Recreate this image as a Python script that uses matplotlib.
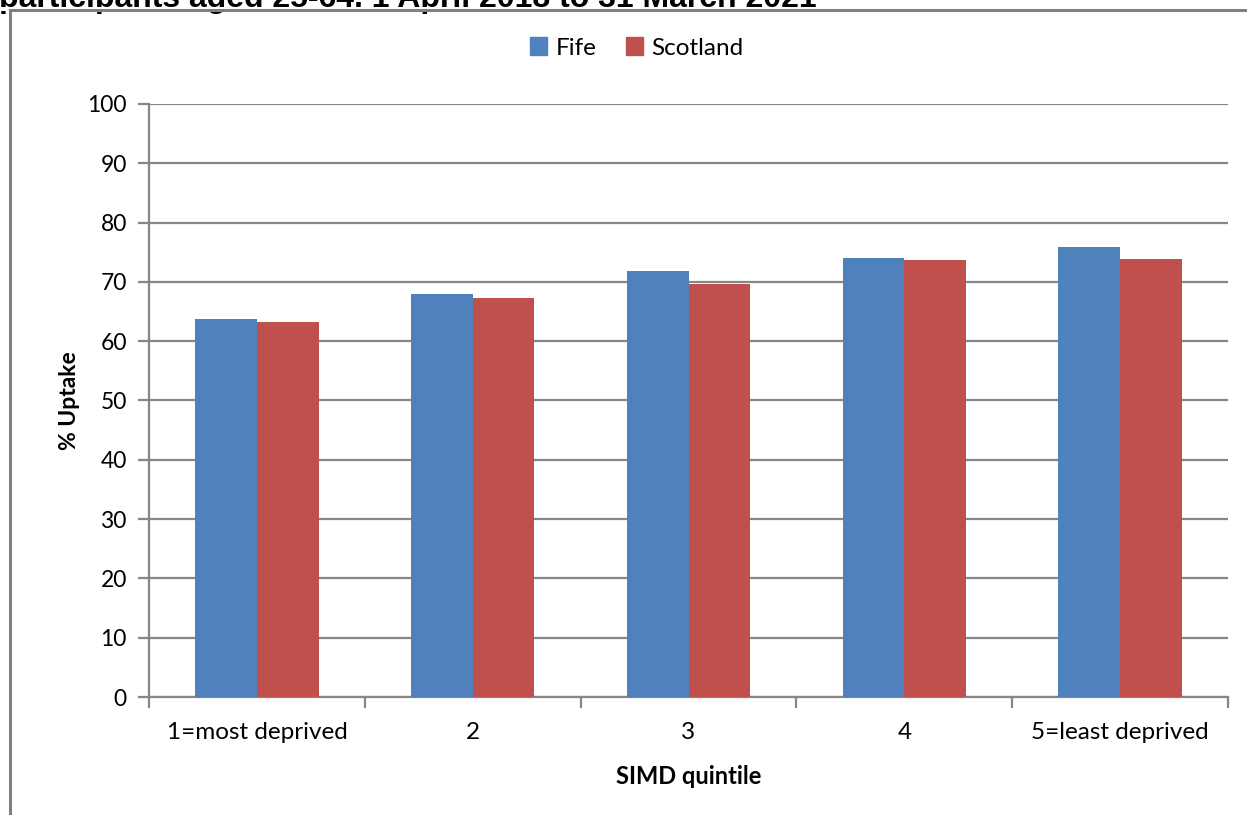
import matplotlib
matplotlib.use("Agg")
import matplotlib.pyplot as plt
from matplotlib.patches import Rectangle
from matplotlib.lines import Line2D
import numpy as np

categories = ["1=most deprived", "2", "3", "4", "5=least deprived"]
fife = [63.7, 68.0, 71.8, 74.0, 75.9]
scotland = [63.2, 67.3, 69.6, 73.7, 73.9]
series_names = ["Fife", "Scotland"]
colors = ["#4F81BD", "#C0504D"]
title = "participants aged 25-64, 1 April 2018 to 31 March 2021"

W, H = 1247, 815
fig = plt.figure(figsize=(W / 100, H / 100), dpi=100)
fig.patch.set_facecolor("white")

font = ["Lato", "DejaVu Sans"]
grid_col = "#868686"

# title, mostly cut off by the top edge
fig.text(-1 / W, 1 - 7 / H, title, fontsize=23, fontweight="bold",
         family=["Liberation Sans", "DejaVu Sans"], ha="left", va="baseline", zorder=1)
# white strip between the title and the chart frame
fig.add_artist(Rectangle((0, 1 - 11 / H), 1, 4 / H, transform=fig.transFigure,
                         facecolor="white", edgecolor="none", zorder=2))

# chart frame
fig.add_artist(Line2D([10 / W, 10 / W], [0, 1 - 10 / H], color="#7F7F7F", lw=2.2,
                      transform=fig.transFigure, zorder=3))
fig.add_artist(Line2D([10 / W, 1.0], [1 - 10 / H, 1 - 10 / H], color="#7F7F7F", lw=2.2,
                      transform=fig.transFigure, zorder=3))

x0, x1 = 149, 1228
y0, y1 = 697, 104
ax = fig.add_axes([x0 / W, 1 - y0 / H, (x1 - x0) / W, (y0 - y1) / H])

n = len(categories)
x = np.arange(n)
bw = 1 / 3.5
ax.bar(x - bw / 2, fife, width=bw, color=colors[0], label=series_names[0], zorder=3)
ax.bar(x + bw / 2, scotland, width=bw, color=colors[1], label=series_names[1], zorder=3)

ax.set_xlim(-0.5, n - 0.5)
ax.set_ylim(0, 100)
ax.set_yticks(np.arange(0, 101, 10))
ax.yaxis.grid(True, color=grid_col, lw=1.6, zorder=0)
ax.set_axisbelow(True)

for s in ["top", "right"]:
    ax.spines[s].set_visible(False)
for s in ["left", "bottom"]:
    ax.spines[s].set_color(grid_col)
    ax.spines[s].set_linewidth(1.6)

ax.set_xticks(np.arange(-0.5, n, 1.0))
ax.set_xticklabels([])
ax.set_xticks(x, minor=True)
ax.set_xticklabels(categories, minor=True)
ax.tick_params(axis="x", which="major", length=8, width=1.6, color=grid_col, direction="out")
ax.tick_params(axis="x", which="minor", length=0, pad=18, labelsize=17.5)
ax.tick_params(axis="y", length=8, width=1.6, color=grid_col, direction="out", pad=8,
               labelsize=16.5)
for lab in ax.get_xticklabels(minor=True) + ax.get_yticklabels():
    lab.set_family(font)

ax.set_ylabel("% Uptake", fontsize=16.5, fontweight="bold", family=font, labelpad=5)
ax.set_xlabel("SIMD quintile", fontsize=17, fontweight="bold", family=font, labelpad=16)

handles = [Rectangle((0, 0), 1, 1, color=c) for c in colors]
fig.legend(handles, series_names, loc="center", bbox_to_anchor=(637 / W, 1 - 48 / H),
           ncol=2, frameon=False, prop={"family": font, "size": 17.5},
           handlelength=0.7, handleheight=0.7, handletextpad=0.35, columnspacing=1.2)

fig.savefig("out.png", dpi=100)
